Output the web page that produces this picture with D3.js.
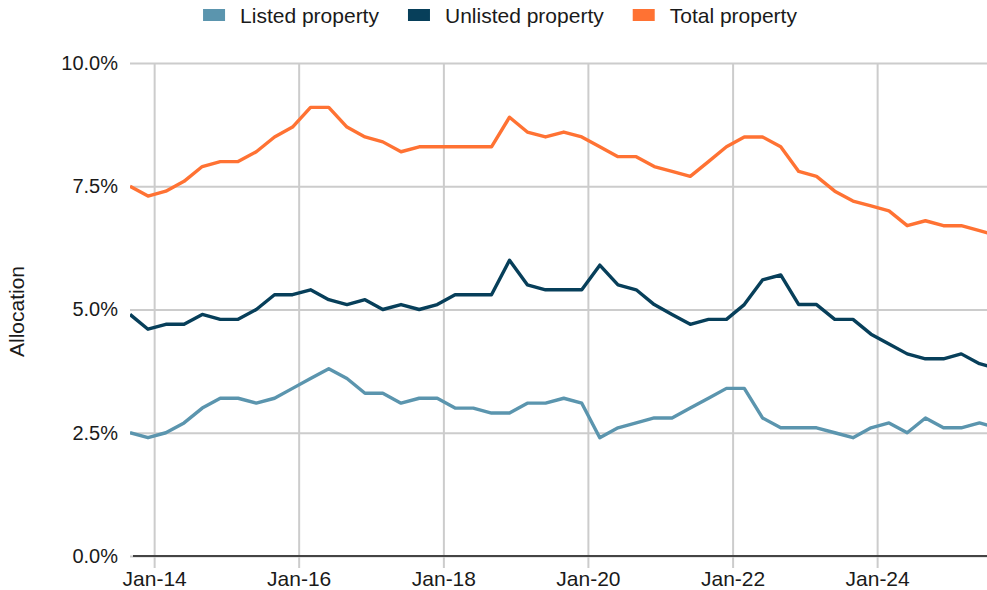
<!DOCTYPE html>
<html>
<head>
<meta charset="utf-8">
<script src="https://cdn.jsdelivr.net/npm/d3@7"></script>
<style>
  html, body { margin: 0; padding: 0; background: #fff; }
  svg { display: block; font-family: "Liberation Sans", Arial, sans-serif; }
</style>
</head>
<body>
<div id="chart"></div>
<script>
// Quarterly observations (first of month)
const quarters = [
  'Sep-13', 'Dec-13', 'Mar-14', 'Jun-14', 'Sep-14', 'Dec-14', 'Mar-15', 'Jun-15', 'Sep-15', 'Dec-15',
  'Mar-16', 'Jun-16', 'Sep-16', 'Dec-16', 'Mar-17', 'Jun-17', 'Sep-17', 'Dec-17', 'Mar-18', 'Jun-18',
  'Sep-18', 'Dec-18', 'Mar-19', 'Jun-19', 'Sep-19', 'Dec-19', 'Mar-20', 'Jun-20', 'Sep-20', 'Dec-20',
  'Mar-21', 'Jun-21', 'Sep-21', 'Dec-21', 'Mar-22', 'Jun-22', 'Sep-22', 'Dec-22', 'Mar-23', 'Jun-23',
  'Sep-23', 'Dec-23', 'Mar-24', 'Jun-24', 'Sep-24', 'Dec-24', 'Mar-25', 'Jun-25', 'Sep-25'
];

const listed = [
  2.5, 2.4, 2.5, 2.7, 3.0, 3.2, 3.2, 3.1, 3.2, 3.4,
  3.6, 3.8, 3.6, 3.3, 3.3, 3.1, 3.2, 3.2, 3.0, 3.0,
  2.9, 2.9, 3.1, 3.1, 3.2, 3.1, 2.4, 2.6, 2.7, 2.8,
  2.8, 3.0, 3.2, 3.4, 3.4, 2.8, 2.6, 2.6, 2.6, 2.5,
  2.4, 2.6, 2.7, 2.5, 2.8, 2.6, 2.6, 2.7, 2.6
];

const unlisted = [
  4.9, 4.6, 4.7, 4.7, 4.9, 4.8, 4.8, 5.0, 5.3, 5.3,
  5.4, 5.2, 5.1, 5.2, 5.0, 5.1, 5.0, 5.1, 5.3, 5.3,
  5.3, 6.0, 5.5, 5.4, 5.4, 5.4, 5.9, 5.5, 5.4, 5.1,
  4.9, 4.7, 4.8, 4.8, 5.1, 5.6, 5.7, 5.1, 5.1, 4.8,
  4.8, 4.5, 4.3, 4.1, 4.0, 4.0, 4.1, 3.9, 3.8
];

const total = [
  7.5, 7.3, 7.4, 7.6, 7.9, 8.0, 8.0, 8.2, 8.5, 8.7,
  9.1, 9.1, 8.7, 8.5, 8.4, 8.2, 8.3, 8.3, 8.3, 8.3,
  8.3, 8.9, 8.6, 8.5, 8.6, 8.5, 8.3, 8.1, 8.1, 7.9,
  7.8, 7.7, 8.0, 8.3, 8.5, 8.5, 8.3, 7.8, 7.7, 7.4,
  7.2, 7.1, 7.0, 6.7, 6.8, 6.7, 6.7, 6.6, 6.5
];

const seriesNames = ['Listed property', 'Unlisted property', 'Total property'];
const seriesColors = ['#5b95ae', '#073f5a', '#ff7233'];
const yTicks = [0, 2.5, 5, 7.5, 10];
const xTickYears = [2014, 2016, 2018, 2020, 2022, 2024];

const parseQ = d3.timeParse('%b-%y');
const dates = quarters.map(parseQ);

const W = 987, H = 590;
const margin = { top: 63, right: 0, bottom: 34, left: 130 };
const width = W - margin.left - margin.right;
const height = H - margin.top - margin.bottom;

const svg = d3.select('#chart').append('svg')
  .attr('width', W)
  .attr('height', H);

const g = svg.append('g')
  .attr('transform', `translate(${margin.left},${margin.top})`);

const x = d3.scaleTime()
  .domain([new Date(2013, 8, 1), new Date(2025, 6, 9)])
  .range([0, width]);

const y = d3.scaleLinear()
  .domain([0, 10])
  .range([height, 0]);

// vertical gridlines + x labels
const xAxis = g.append('g')
  .attr('transform', `translate(0,${height})`)
  .call(d3.axisBottom(x)
    .tickValues(xTickYears.map(yr => new Date(yr, 0, 1)))
    .tickSize(-height)
    .tickSizeOuter(0)
    .tickPadding(15)
    .tickFormat(d3.timeFormat('Jan-%y')));
xAxis.select('.domain').remove();
xAxis.selectAll('line')
  .attr('stroke', '#cccccc')
  .attr('stroke-width', 2)
  .attr('y1', -height)
  .attr('y2', 12);
xAxis.selectAll('text').attr('fill', '#1a1a1a').attr('font-size', '21px');

// horizontal gridlines + y labels
const yAxis = g.append('g')
  .call(d3.axisLeft(y)
    .tickValues(yTicks)
    .tickSize(-width)
    .tickPadding(12)
    .tickFormat(d => d3.format('.1f')(d) + '%'));
yAxis.select('.domain').remove();
yAxis.selectAll('line').attr('stroke', '#cccccc').attr('stroke-width', 2);
yAxis.selectAll('text').attr('fill', '#1a1a1a').attr('font-size', '20px');

// baseline
g.append('line')
  .attr('x1', 3).attr('x2', width)
  .attr('y1', y(0)).attr('y2', y(0))
  .attr('stroke', '#444')
  .attr('stroke-width', 2);

// axis title
svg.append('text')
  .attr('transform', `translate(24,${margin.top + height / 2 + 2}) rotate(-90)`)
  .attr('text-anchor', 'middle')
  .attr('fill', '#1a1a1a')
  .attr('font-size', '21px')
  .text('Allocation');

// lines
g.append('clipPath').attr('id', 'plot-clip')
  .append('rect').attr('x', 0).attr('y', -10).attr('width', width).attr('height', height + 20);

const line = d3.line()
  .x((d, i) => x(dates[i]))
  .y(d => y(d));

const plot = g.append('g').attr('clip-path', 'url(#plot-clip)');
[listed, unlisted, total].forEach((vals, k) => {
  plot.append('path')
    .attr('d', line(vals))
    .attr('fill', 'none')
    .attr('stroke', seriesColors[k])
    .attr('stroke-width', 3.4)
    .attr('stroke-linejoin', 'round');
});

// legend
const legend = svg.append('g');
let cursor = 0;
seriesNames.forEach((name, k) => {
  const item = legend.append('g').attr('transform', `translate(${cursor},0)`);
  item.append('rect')
    .attr('x', 0).attr('y', -6)
    .attr('width', 22).attr('height', 12)
    .attr('fill', seriesColors[k]);
  const t = item.append('text')
    .attr('x', 37).attr('y', 7.5)
    .attr('fill', '#1a1a1a')
    .attr('font-size', '21px')
    .text(name);
  cursor += 37 + t.node().getComputedTextLength() + 29;
});
const legendWidth = cursor - 29;
legend.attr('transform', `translate(${500 - legendWidth / 2},15)`);
</script>
</body>
</html>
